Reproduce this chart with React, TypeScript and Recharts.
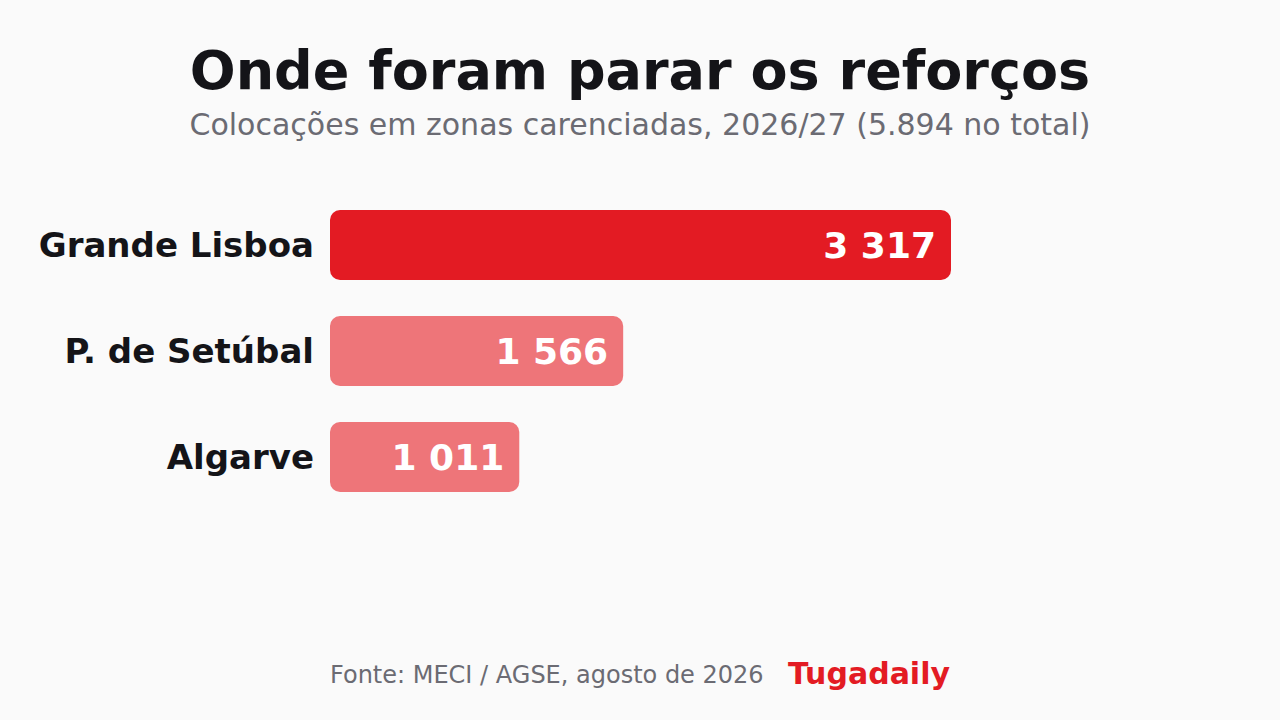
import React from 'react'
import { BarChart, Bar, XAxis, YAxis, Cell, LabelList } from 'recharts'

const regions = ['Grande Lisboa', 'P. de Setúbal', 'Algarve']
const placements = [3317, 1566, 1011]
const barColors = ['#e31b23', '#ee7579', '#ee7579']

const title = 'Onde foram parar os reforços'
const subtitle = 'Colocações em zonas carenciadas, 2026/27 (5.894 no total)'
const source = 'Fonte: MECI / AGSE, agosto de 2026'
const brand = 'Tugadaily'

const data = regions.map((region, i) => ({ region, value: placements[i] }))

const font = '"DejaVu Sans", sans-serif'

const fmt = (v: number) => String(v).replace(/\B(?=(\d{3})+(?!\d))/g, ' ')

const RegionTick = (props: any) => {
  const { x, y, payload } = props
  return (
    <text x={x} y={y + 12} textAnchor="end" fontFamily={font} fontSize={34} fontWeight="bold" fill="#141418">
      {payload.value}
    </text>
  )
}

const ValueLabel = (props: any) => {
  const { x, y, width, height, value } = props
  return (
    <text
      x={x + width - 15}
      y={y + height / 2 + 13}
      textAnchor="end"
      fontFamily={font}
      fontSize={36}
      fontWeight="bold"
      fill="#ffffff"
    >
      {fmt(value)}
    </text>
  )
}

export default function App() {
  return (
    <div style={{ position: 'fixed', left: 0, top: 0, width: 1280, height: 720, background: '#fafafa' }}>
      <BarChart
        width={1280}
        height={720}
        data={data}
        layout="vertical"
        margin={{ top: 192, right: 329, bottom: 210, left: 0 }}
        barSize={70}
      >
        <XAxis type="number" domain={[0, 'dataMax']} hide />
        <YAxis
          type="category"
          dataKey="region"
          width={330}
          axisLine={false}
          tickLine={false}
          tickSize={0}
          tickMargin={16}
          tick={<RegionTick />}
        />
        <Bar dataKey="value" radius={10} isAnimationActive={false}>
          {data.map((d, i) => (
            <Cell key={d.region} fill={barColors[i]} />
          ))}
          <LabelList dataKey="value" content={<ValueLabel />} />
        </Bar>
      </BarChart>
      <svg width={1280} height={720} style={{ position: 'absolute', left: 0, top: 0, pointerEvents: 'none' }}>
        <text x={640} y={89} textAnchor="middle" fontFamily={font} fontSize={54} fontWeight="bold" fill="#141418">
          {title}
        </text>
        <text x={640} y={135} textAnchor="middle" fontFamily={font} fontSize={30} fill="#6b6b73">
          {subtitle}
        </text>
        <text x={330} y={683} fontFamily={font} fontSize={24} fill="#6b6b73">
          {source}
        </text>
        <text x={950} y={684} textAnchor="end" fontFamily={font} fontSize={30} fontWeight="bold" fill="#e31b23">
          {brand}
        </text>
      </svg>
    </div>
  )
}
